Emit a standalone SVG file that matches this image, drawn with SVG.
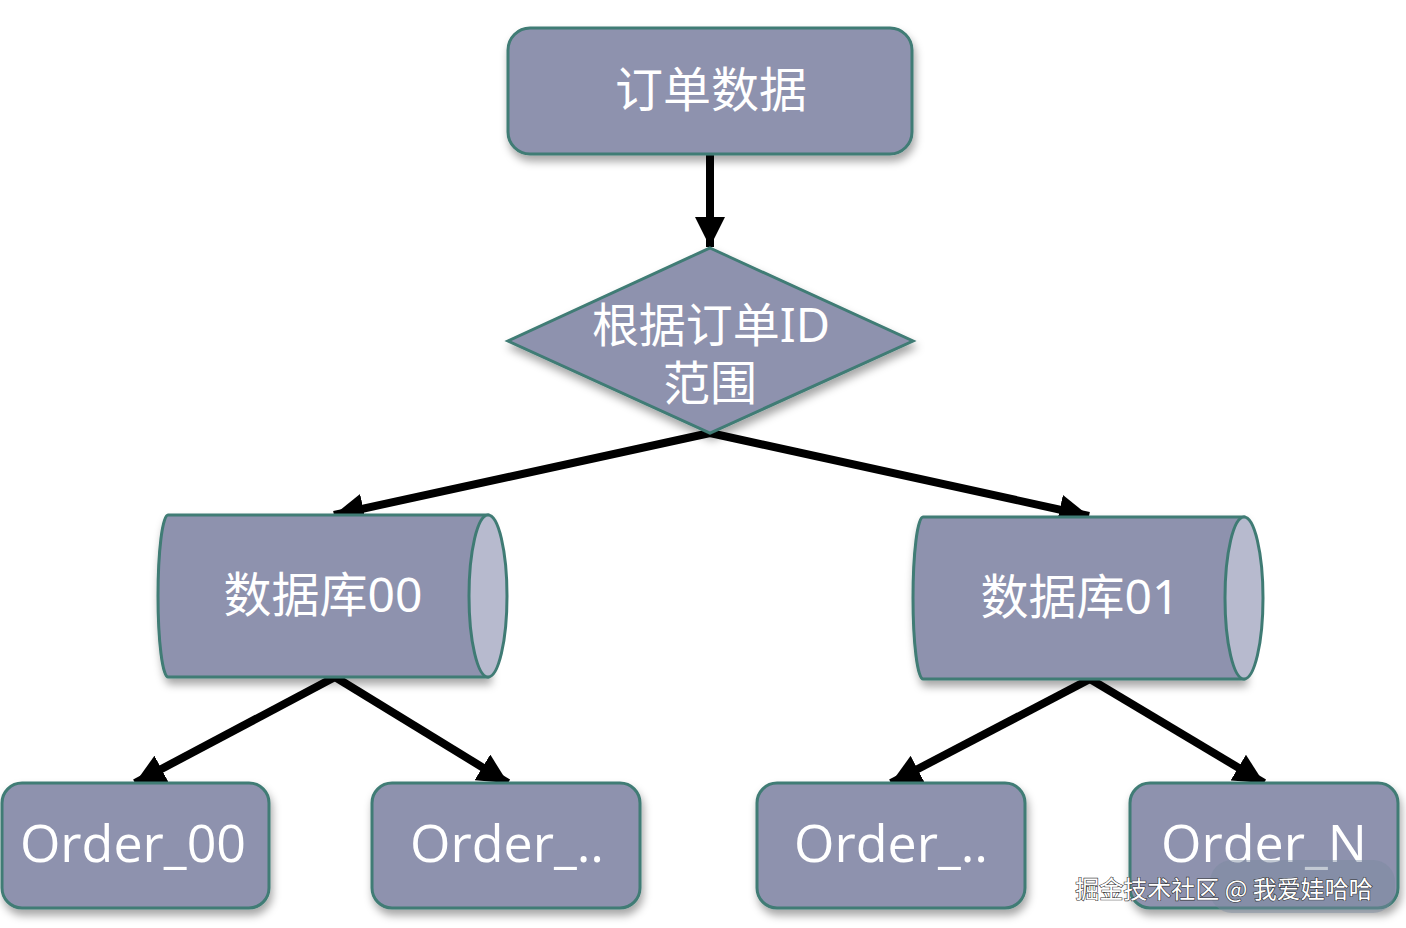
<svg xmlns="http://www.w3.org/2000/svg" width="1406" height="928" viewBox="0 0 1406 928">
<defs>
<filter id="sh" x="-10%" y="-10%" width="120%" height="130%">
<feDropShadow dx="2" dy="6" stdDeviation="4" flood-color="#000" flood-opacity="0.35"/>
</filter>
<marker id="ah" markerUnits="userSpaceOnUse" markerWidth="32" markerHeight="30" refX="30" refY="15" orient="auto">
<path d="M0,0 L30,15 L0,30 Z" fill="#000"/>
</marker>
<style>
.n{fill:#8e92ae;stroke:#3f7b74;stroke-width:3}
.cap{fill:#b7bace;stroke:#3f7b74;stroke-width:3}
.t{fill:#fff;font-family:"Noto Sans","Noto Sans CJK SC",sans-serif;text-anchor:middle}
.o{fill:#fff;font-family:"Open Sans","Noto Sans",sans-serif;text-anchor:middle;font-size:52px}
.c{fill:none;stroke:#000;stroke-width:8;marker-end:url(#ah)}
</style>
</defs>
<rect width="1406" height="928" fill="#fff"/>
<g id="connectors">
<line class="c" x1="710" y1="155" x2="710" y2="247"/>
<line class="c" x1="710" y1="433" x2="334" y2="515"/>
<line class="c" x1="710" y1="433" x2="1089" y2="516"/>
<line class="c" x1="335" y1="677" x2="135" y2="783"/>
<line class="c" x1="335" y1="677" x2="508" y2="783"/>
<line class="c" x1="1090" y1="679" x2="891" y2="783"/>
<line class="c" x1="1090" y1="679" x2="1264" y2="783"/>
</g>
<g id="order-data">
<rect class="n" x="508" y="28" width="404" height="126" rx="22" filter="url(#sh)"/>
<text class="t" x="711" y="107" font-size="48">订单数据</text>
</g>
<g id="decision">
<polygon class="n" points="710,248 913,341 710,433 508,341" filter="url(#sh)"/>
<text class="t" x="711" y="342" font-size="47">根据订单ID</text>
<text class="t" x="710" y="400" font-size="47">范围</text>
</g>
<g id="db00">
<path class="n" d="M488,515 L168,515 A10,81 0 0 0 168,677 L488,677 Z" filter="url(#sh)"/>
<ellipse class="cap" cx="488" cy="596" rx="19" ry="81"/>
<text class="t" x="323" y="612" font-size="48">数据库00</text>
</g>
<g id="db01">
<path class="n" d="M1244,517 L923,517 A10,81 0 0 0 923,679 L1244,679 Z" filter="url(#sh)"/>
<ellipse class="cap" cx="1244" cy="598" rx="19" ry="81"/>
<text class="t" x="1080" y="614" font-size="48">数据库01</text>
</g>
<g id="order00">
<rect class="n" x="2" y="783" width="267" height="125" rx="20" filter="url(#sh)"/>
<text class="o" x="133" y="862">Order_00</text>
</g>
<g id="order-a">
<rect class="n" x="372" y="783" width="268" height="125" rx="20" filter="url(#sh)"/>
<text class="o" x="507" y="862">Order_..</text>
</g>
<g id="order-b">
<rect class="n" x="757" y="783" width="268" height="125" rx="20" filter="url(#sh)"/>
<text class="o" x="891" y="862">Order_..</text>
</g>
<g id="orderN">
<rect class="n" x="1130" y="783" width="268" height="125" rx="20" filter="url(#sh)"/>
<text class="o" x="1264" y="862">Order_N</text>
</g>
<g id="watermark">
<rect x="1210" y="860" width="185" height="53" rx="22" fill="#7a8aa0" opacity="0.45"/>
<text x="1224" y="898" font-size="24" text-anchor="middle" font-family="'Noto Sans CJK SC',sans-serif" fill="#fff" stroke="#333" stroke-width="1.2" paint-order="stroke">掘金技术社区 @ 我爱娃哈哈</text>
</g>
</svg>
